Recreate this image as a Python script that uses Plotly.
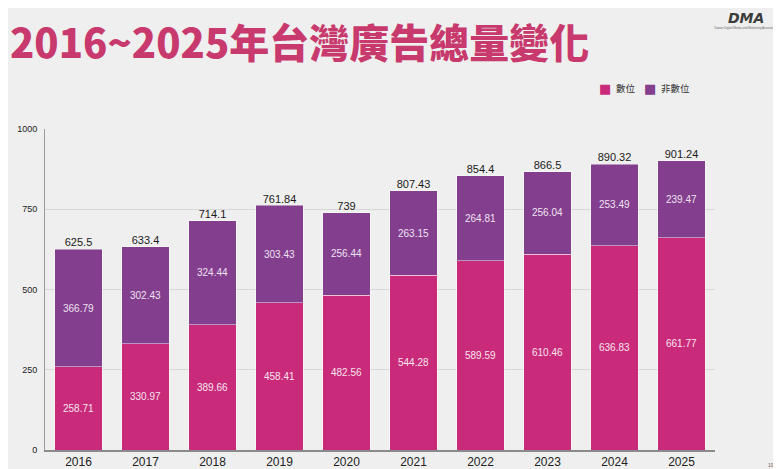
import plotly.graph_objects as go

years = ['2016', '2017', '2018', '2019', '2020', '2021', '2022', '2023', '2024', '2025']
digital = [258.71, 330.97, 389.66, 458.41, 482.56, 544.28, 589.59, 610.46, 636.83, 661.77]
non_digital = [366.79, 302.43, 324.44, 303.43, 256.44, 263.15, 264.81, 256.04, 253.49, 239.47]
totals = [625.5, 633.4, 714.1, 761.84, 739, 807.43, 854.4, 866.5, 890.32, 901.24]

pink = '#c92a7a'
purple = '#833e8e'
font_main = 'Liberation Sans, Arial, sans-serif'

# plot area in figure pixels
L, R, T, B = 37, 707, 121, 442
W, H = R - L, B - T


def px(x):
    return (x - L) / W


def py(y):
    return (B - y) / H


fig = go.Figure()
fig.add_trace(
    go.Bar(
        x=years, y=digital, name='數位',
        marker_color=pink,
        marker_line_color='rgba(255,255,255,0.45)',
        marker_line_width=1,
        text=[f'{v:g}' for v in digital],
        textposition='inside',
        insidetextanchor='middle',
        textfont=dict(color='#f6e6ee', size=10, family=font_main),
    )
)
fig.add_trace(
    go.Bar(
        x=years, y=non_digital, name='非數位',
        marker_color=purple,
        marker_line_color='rgba(255,255,255,0.45)',
        marker_line_width=1,
        text=[f'{v:g}' for v in non_digital],
        textposition='inside',
        insidetextanchor='middle',
        textfont=dict(color='#efe3f1', size=10, family=font_main),
    )
)
# totals above each stack
fig.add_trace(
    go.Scatter(
        x=years, y=totals, mode='text',
        text=[f'{v:g}' for v in totals],
        textposition='top center',
        textfont=dict(size=11, color='#1a1a1a', family=font_main),
        showlegend=False, hoverinfo='skip',
    )
)

# title
fig.add_annotation(
    xref='paper', yref='paper', x=px(0), y=py(33),
    xanchor='left', yanchor='middle', showarrow=False,
    text='2016~2025年台灣廣告總量變化',
    font=dict(size=40, color='#c83a6d', family='Noto Sans CJK TC', weight=900),
)

# legend drawn as text
legend_items = [('數位', pink, 596.5, 606), ('非數位', purple, 641.5, 651)]
for name, col, sq_x, tx_x in legend_items:
    fig.add_annotation(
        xref='paper', yref='paper', x=px(sq_x), y=py(80),
        xanchor='center', yanchor='middle', showarrow=False,
        text='■', font=dict(size=13, color=col, family='DejaVu Sans'),
    )
    fig.add_annotation(
        xref='paper', yref='paper', x=px(tx_x), y=py(80),
        xanchor='left', yanchor='middle', showarrow=False,
        text=name, font=dict(size=9.5, color='#333333', family='Noto Sans CJK TC'),
    )

# logo
fig.add_annotation(
    xref='paper', yref='paper', x=px(738), y=py(10),
    xanchor='center', yanchor='middle', showarrow=False,
    text='<b><i>DMA</i></b>',
    font=dict(size=14, color='#3c3c3c', family='DejaVu Sans'),
)
fig.add_annotation(
    xref='paper', yref='paper', x=px(738), y=py(20),
    xanchor='center', yanchor='middle', showarrow=False,
    text='Taiwan Digital Media and Marketing Association',
    font=dict(size=3, color='#666666', family=font_main),
)
fig.add_annotation(
    xref='paper', yref='paper', x=px(763), y=py(457),
    xanchor='center', yanchor='middle', showarrow=False,
    text='19',
    font=dict(size=5, color='#666666', family=font_main),
)

fig.update_layout(
    barmode='stack',
    bargap=0.29,
    width=781, height=469,
    margin=dict(l=L, r=781 - R, t=T, b=469 - B),
    paper_bgcolor='#efefef',
    plot_bgcolor='#efefef',
    font=dict(family=font_main, color='#222222'),
    showlegend=False,
    xaxis=dict(
        type='category', automargin=False,
        showline=True, linecolor='#8a8a8a', linewidth=1.5,
        ticks='', tickfont=dict(size=12, color='#222222'),
        showgrid=False,
    ),
    yaxis=dict(
        range=[0, 1000], tickvals=[0, 250, 500, 750, 1000], automargin=False,
        showline=True, linecolor='#9a9a9a', linewidth=1,
        gridcolor='#d8d8d8', gridwidth=1,
        tickfont=dict(size=9, color='#222222'),
        ticklabelstandoff=5, zeroline=False,
    ),
)

fig.write_html('out.html')
